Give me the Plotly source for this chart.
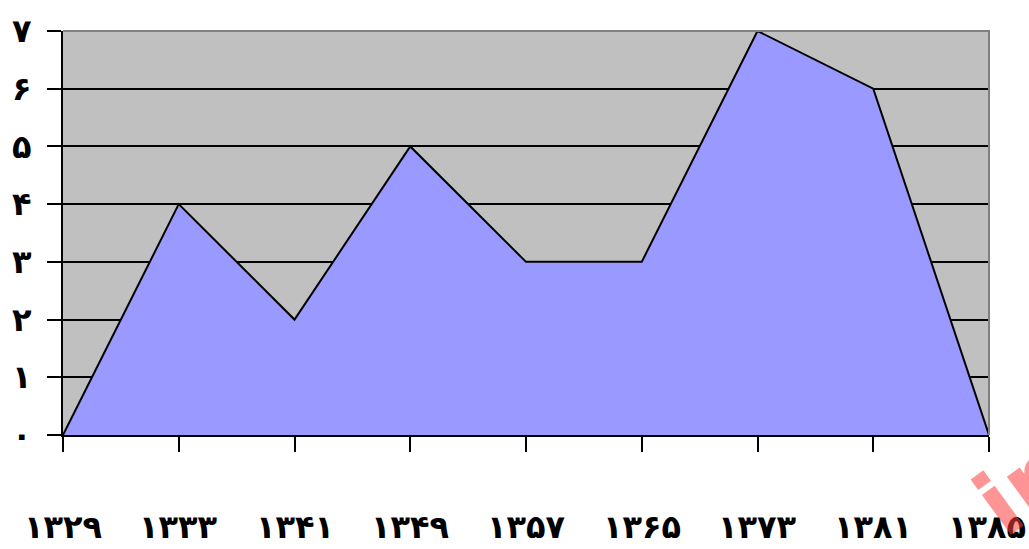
import plotly.graph_objects as go

# Years (Solar Hijri) and counts
years = ["۱۳۲۹", "۱۳۳۳", "۱۳۴۱", "۱۳۴۹", "۱۳۵۷", "۱۳۶۵", "۱۳۷۳", "۱۳۸۱", "۱۳۸۵"]
counts = [0, 4, 2, 5, 3, 3, 7, 6, 0]
y_ticks = [0, 1, 2, 3, 4, 5, 6, 7]
y_tick_labels = ["۰", "۱", "۲", "۳", "۴", "۵", "۶", "۷"]

x_pos = list(range(len(years)))

fig = go.Figure()
fig.add_trace(go.Scatter(
    x=x_pos, y=counts, mode="lines", fill="tozeroy",
    fillcolor="#9999FF", line=dict(color="black", width=2),
    hoverinfo="skip", showlegend=False,
))

label_font = dict(family="DejaVu Sans", size=32, color="black", weight="bold")

fig.update_xaxes(
    range=[0, len(years) - 1], tickvals=x_pos, showticklabels=False,
    showgrid=False, zeroline=False, automargin=False,
    showline=True, linecolor="black", linewidth=2,
    ticks="outside", ticklen=15, tickwidth=2, tickcolor="black",
)
fig.update_yaxes(
    range=[0, 7], tickvals=y_ticks, ticktext=y_tick_labels,
    showgrid=True, gridcolor="black", gridwidth=2, zeroline=False, automargin=False,
    showline=True, linecolor="black", linewidth=2,
    ticks="outside", ticklen=14, tickwidth=2, tickcolor="black",
    tickfont=label_font, ticklabelstandoff=9,
)

# year labels sit well below the axis; the last one is kept inside the page
last = len(years) - 1
for xp, year in zip(x_pos, years):
    fig.add_annotation(text=year, x=xp, xref="x", y=-0.228, yref="paper",
                       xanchor="right" if xp == last else "center",
                       xshift=39 if xp == last else 0,
                       yanchor="middle", showarrow=False, font=label_font)

# grey frame on the top and right edges of the plot area
fig.add_shape(type="path", path="M 0,1 L 1,1 L 1,0", xref="paper", yref="paper",
              line=dict(color="#808080", width=2), layer="above")

# site watermark
fig.add_annotation(text="<b>ir</b>", xref="paper", yref="paper", x=1.03, y=-0.14,
                   xanchor="center", yanchor="middle",
                   showarrow=False, textangle=-36,
                   font=dict(family="DejaVu Sans", size=90, color="rgba(255,60,60,0.55)"))

fig.update_layout(
    width=1029, height=549,
    margin=dict(l=63, r=40, t=31, b=114),
    paper_bgcolor="white", plot_bgcolor="#C0C0C0",
)

fig.write_html("out.html")
